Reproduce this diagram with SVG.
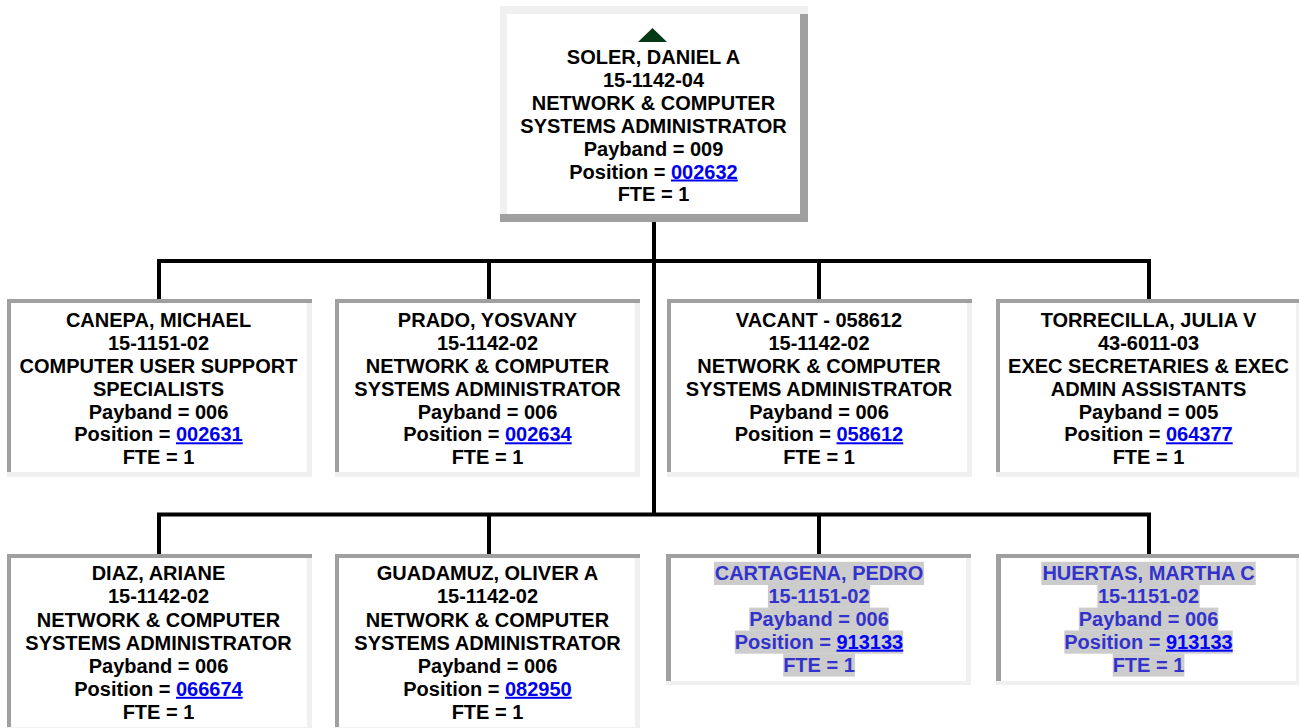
<svg xmlns="http://www.w3.org/2000/svg" width="1299" height="728" viewBox="0 0 1299 728">
<style>
.t{font-family:"Liberation Sans",Arial,Helvetica,sans-serif;font-size:20px;font-weight:bold;text-anchor:middle;fill:#000}
.lnk{fill:#0000ee;text-decoration:underline}
.v{fill:#3333cc}
.vl{fill:#0000ff;text-decoration:underline}
.hl{fill:#cccccc}
.dk{fill:#a0a0a0}
.lt{fill:#f0f0f0}
.conn{stroke:#000;stroke-width:4;fill:none;stroke-linejoin:miter}
</style>
<rect width="1299" height="728" fill="#fff"/>
<g id="connectors">
<path class="conn" d="M654,222 V514.5"/>
<path class="conn" d="M159,299 V261 H1149 V299"/>
<path class="conn" d="M489,261 V299"/>
<path class="conn" d="M819,261 V299"/>
<path class="conn" d="M159,554 V514.5 H1149 V554"/>
<path class="conn" d="M489,514.5 V554"/>
<path class="conn" d="M819,514.5 V554"/>
</g>
<g id="node-soler">
<rect x="500" y="6" width="308" height="216" fill="#fff"/>
<rect class="lt" x="500" y="6" width="308" height="8"/>
<rect class="lt" x="500" y="14" width="7" height="200"/>
<rect class="dk" x="800" y="14" width="8" height="208"/>
<rect class="dk" x="500" y="214" width="308" height="8"/>
<polygon points="652.5,28 638,42 667,42" fill="#063a16"/>
<text class="t" x="653.5" y="64">SOLER, DANIEL A</text>
<text class="t" x="653.5" y="86.9">15-1142-04</text>
<text class="t" x="653.5" y="109.8">NETWORK &amp; COMPUTER</text>
<text class="t" x="653.5" y="132.7">SYSTEMS ADMINISTRATOR</text>
<text class="t" x="653.5" y="155.6">Payband = 009</text>
<text class="t" x="653.5" y="178.5">Position = <tspan class="lnk">002632</tspan></text>
<text class="t" x="653.5" y="201.4">FTE = 1</text>
</g>
<g id="node-canepa">
<rect class="dk" x="7" y="299" width="305" height="4"/>
<rect class="dk" x="7" y="303" width="4" height="169"/>
<rect class="lt" x="307" y="303" width="5" height="169"/>
<rect class="lt" x="7" y="472" width="305" height="5"/>
<text class="t" x="158.5" y="327.3">CANEPA, MICHAEL</text>
<text class="t" x="158.5" y="350.1">15-1151-02</text>
<text class="t" x="158.5" y="372.9">COMPUTER USER SUPPORT</text>
<text class="t" x="158.5" y="395.7">SPECIALISTS</text>
<text class="t" x="158.5" y="418.5">Payband = 006</text>
<text class="t" x="158.5" y="441.3">Position = <tspan class="lnk">002631</tspan></text>
<text class="t" x="158.5" y="464.1">FTE = 1</text>
</g>
<g id="node-prado">
<rect class="dk" x="335" y="299" width="305" height="4"/>
<rect class="dk" x="335" y="303" width="4" height="169"/>
<rect class="lt" x="635" y="303" width="5" height="169"/>
<rect class="lt" x="335" y="472" width="305" height="5"/>
<text class="t" x="487.5" y="327.3">PRADO, YOSVANY</text>
<text class="t" x="487.5" y="350.1">15-1142-02</text>
<text class="t" x="487.5" y="372.9">NETWORK &amp; COMPUTER</text>
<text class="t" x="487.5" y="395.7">SYSTEMS ADMINISTRATOR</text>
<text class="t" x="487.5" y="418.5">Payband = 006</text>
<text class="t" x="487.5" y="441.3">Position = <tspan class="lnk">002634</tspan></text>
<text class="t" x="487.5" y="464.1">FTE = 1</text>
</g>
<g id="node-vacant">
<rect class="dk" x="667" y="299" width="305" height="4"/>
<rect class="dk" x="667" y="303" width="4" height="169"/>
<rect class="lt" x="967" y="303" width="5" height="169"/>
<rect class="lt" x="667" y="472" width="305" height="5"/>
<text class="t" x="819" y="327.3">VACANT - 058612</text>
<text class="t" x="819" y="350.1">15-1142-02</text>
<text class="t" x="819" y="372.9">NETWORK &amp; COMPUTER</text>
<text class="t" x="819" y="395.7">SYSTEMS ADMINISTRATOR</text>
<text class="t" x="819" y="418.5">Payband = 006</text>
<text class="t" x="819" y="441.3">Position = <tspan class="lnk">058612</tspan></text>
<text class="t" x="819" y="464.1">FTE = 1</text>
</g>
<g id="node-torrecilla">
<rect class="dk" x="996" y="299" width="305" height="4"/>
<rect class="dk" x="996" y="303" width="4" height="169"/>
<rect class="lt" x="1296" y="303" width="5" height="169"/>
<rect class="lt" x="996" y="472" width="305" height="5"/>
<text class="t" x="1148.5" y="327.3">TORRECILLA, JULIA V</text>
<text class="t" x="1148.5" y="350.1">43-6011-03</text>
<text class="t" x="1148.5" y="372.9">EXEC SECRETARIES &amp; EXEC</text>
<text class="t" x="1148.5" y="395.7">ADMIN ASSISTANTS</text>
<text class="t" x="1148.5" y="418.5">Payband = 005</text>
<text class="t" x="1148.5" y="441.3">Position = <tspan class="lnk">064377</tspan></text>
<text class="t" x="1148.5" y="464.1">FTE = 1</text>
</g>
<g id="node-diaz">
<rect class="dk" x="7" y="554" width="305" height="4"/>
<rect class="dk" x="7" y="558" width="4" height="169"/>
<rect class="lt" x="307" y="558" width="5" height="169"/>
<rect class="lt" x="7" y="727" width="305" height="5"/>
<text class="t" x="158.5" y="580.3">DIAZ, ARIANE</text>
<text class="t" x="158.5" y="603.4">15-1142-02</text>
<text class="t" x="158.5" y="626.5">NETWORK &amp; COMPUTER</text>
<text class="t" x="158.5" y="649.6">SYSTEMS ADMINISTRATOR</text>
<text class="t" x="158.5" y="672.7">Payband = 006</text>
<text class="t" x="158.5" y="695.8">Position = <tspan class="lnk">066674</tspan></text>
<text class="t" x="158.5" y="718.9">FTE = 1</text>
</g>
<g id="node-guadamuz">
<rect class="dk" x="335" y="554" width="305" height="4"/>
<rect class="dk" x="335" y="558" width="4" height="169"/>
<rect class="lt" x="635" y="558" width="5" height="169"/>
<rect class="lt" x="335" y="727" width="305" height="5"/>
<text class="t" x="487.5" y="580.3">GUADAMUZ, OLIVER A</text>
<text class="t" x="487.5" y="603.4">15-1142-02</text>
<text class="t" x="487.5" y="626.5">NETWORK &amp; COMPUTER</text>
<text class="t" x="487.5" y="649.6">SYSTEMS ADMINISTRATOR</text>
<text class="t" x="487.5" y="672.7">Payband = 006</text>
<text class="t" x="487.5" y="695.8">Position = <tspan class="lnk">082950</tspan></text>
<text class="t" x="487.5" y="718.9">FTE = 1</text>
</g>
<g id="node-cartagena">
<rect class="dk" x="666" y="554" width="305" height="4"/>
<rect class="dk" x="666" y="558" width="5" height="123"/>
<rect class="lt" x="966" y="558" width="5" height="123"/>
<rect class="lt" x="666" y="681" width="305" height="4"/>
<rect class="hl" x="714" y="561.8" width="210" height="23.2"/>
<rect class="hl" x="767.9" y="584.7" width="102.3" height="23.2"/>
<rect class="hl" x="749.3" y="607.6" width="139.5" height="23.2"/>
<rect class="hl" x="734.8" y="630.5" width="168.4" height="23.2"/>
<rect class="hl" x="783.2" y="653.4" width="71.7" height="23.2"/>
<text class="t v" x="819" y="580">CARTAGENA, PEDRO</text>
<text class="t v" x="819" y="602.9">15-1151-02</text>
<text class="t v" x="819" y="625.8">Payband = 006</text>
<text class="t v" x="819" y="648.7">Position = <tspan class="vl">913133</tspan></text>
<text class="t v" x="819" y="671.6">FTE = 1</text>
</g>
<g id="node-huertas">
<rect class="dk" x="996" y="554" width="305" height="4"/>
<rect class="dk" x="996" y="558" width="5" height="123"/>
<rect class="lt" x="1296" y="558" width="5" height="123"/>
<rect class="lt" x="996" y="681" width="305" height="4"/>
<rect class="hl" x="1041.3" y="561.8" width="214.4" height="23.2"/>
<rect class="hl" x="1097.4" y="584.7" width="102.3" height="23.2"/>
<rect class="hl" x="1078.8" y="607.6" width="139.5" height="23.2"/>
<rect class="hl" x="1064.3" y="630.5" width="168.4" height="23.2"/>
<rect class="hl" x="1112.7" y="653.4" width="71.7" height="23.2"/>
<text class="t v" x="1148.5" y="580">HUERTAS, MARTHA C</text>
<text class="t v" x="1148.5" y="602.9">15-1151-02</text>
<text class="t v" x="1148.5" y="625.8">Payband = 006</text>
<text class="t v" x="1148.5" y="648.7">Position = <tspan class="vl">913133</tspan></text>
<text class="t v" x="1148.5" y="671.6">FTE = 1</text>
</g>
</svg>
